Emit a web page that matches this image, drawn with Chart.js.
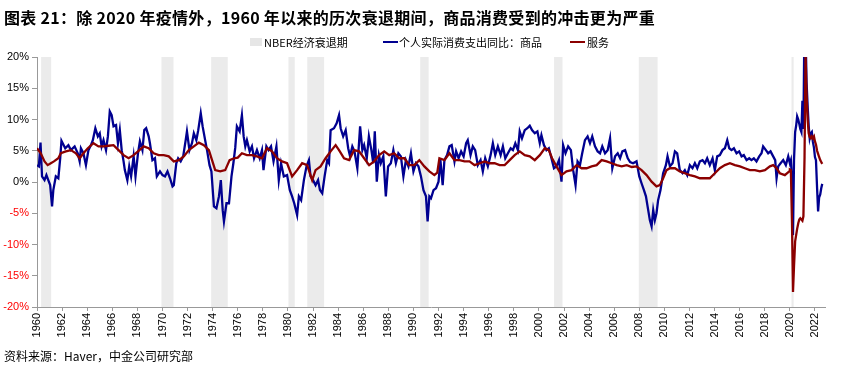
<!DOCTYPE html>
<html><head><meta charset="utf-8">
<script src="https://cdn.jsdelivr.net/npm/chart.js@4.4.0/dist/chart.umd.min.js"></script>
<style>
html,body{margin:0;padding:0;background:#fff;}
#wrap{position:relative;width:849px;height:373px;overflow:hidden;font-family:"Noto Sans CJK SC","Liberation Sans",sans-serif;}
#title{position:absolute;left:4px;top:5px;font-size:16px;font-weight:bold;color:#000;white-space:nowrap;letter-spacing:0.3px;}
#src{position:absolute;left:4px;top:347px;font-size:12px;color:#000;white-space:nowrap;}
.lg{position:absolute;top:35px;font-size:11px;color:#000;white-space:nowrap;line-height:14px;}
.sw{position:absolute;}
canvas{position:absolute;left:0;top:0;}
</style></head>
<body>
<div id="wrap">
<canvas id="c" width="849" height="373"></canvas>
<div id="title">图表 21：除 2020 年疫情外，1960 年以来的历次衰退期间，商品消费受到的冲击更为严重</div>
<div class="sw" style="left:250px;top:38px;width:12px;height:8px;background:#e6e6e6"></div>
<div class="lg" style="left:264px">NBER经济衰退期</div>
<div class="sw" style="left:383px;top:41px;width:15px;height:2px;background:#000090"></div>
<div class="lg" style="left:399px">个人实际消费支出同比：商品</div>
<div class="sw" style="left:570px;top:41px;width:15px;height:2px;background:#8b0000"></div>
<div class="lg" style="left:587px">服务</div>
<div id="src">资料来源：Haver，中金公司研究部</div>
</div>
<script>
// NBER recessions [start, end] in decimal years
const recessions = [[1960.33,1961.13],[1969.92,1970.88],[1973.88,1975.2],[1980.04,1980.54],[1981.54,1982.88],[1990.54,1991.21],[2001.21,2001.88],[2007.96,2009.46],[2020.13,2020.30]];

// x tick labels (years)
const xTickStart = 1960, xTickEnd = 2022, xTickStep = 2;
// y ticks (%)
const yTickMin = -20, yTickMax = 20, yTickStep = 5;

// Real PCE goods, YoY % : [decimal year, value]
const goods = [
[1960.00,2.7],[1960.15,2.5],[1960.28,6.3],[1960.40,0.9],[1960.60,0.3],[1960.75,1.1],[1960.90,0.3],[1961.05,-0.5],[1961.20,-3.9],[1961.30,-1.3],[1961.50,0.9],[1961.70,0.6],[1961.85,3.8],[1961.95,6.6],
[1962.05,6.2],[1962.25,5.4],[1962.50,5.9],[1962.70,5.1],[1963.00,5.7],[1963.25,4.6],[1963.40,3.3],[1963.50,5.4],[1963.70,4.6],[1963.90,2.7],[1964.10,5.1],[1964.30,5.9],[1964.45,6.7],[1964.65,8.6],[1964.85,7.3],
[1965.00,7.8],[1965.15,5.7],[1965.30,6.7],[1965.50,5.1],[1965.65,7.3],[1965.80,11.3],[1965.95,10.7],[1966.10,8.9],[1966.30,9.1],[1966.45,6.2],[1966.60,8.3],[1966.75,5.1],[1966.90,3.3],[1967.00,1.9],[1967.20,0.3],
[1967.35,2.5],[1967.50,0.9],[1967.70,4.1],[1967.85,0.9],[1968.05,4.6],[1968.20,6.5],[1968.40,5.1],[1968.55,8.3],[1968.70,8.6],[1968.90,7.3],[1969.00,6.2],[1969.20,3.5],[1969.40,3.8],[1969.55,0.9],[1969.80,1.7],
[1970.00,1.1],[1970.20,0.9],[1970.40,1.7],[1970.60,0.6],[1970.80,-0.7],[1970.90,-0.5],[1971.10,3.0],[1971.25,3.8],[1971.45,3.3],[1971.65,4.1],[1971.85,6.7],[1971.95,8.1],[1972.15,5.1],[1972.35,6.2],[1972.50,7.8],
[1972.70,6.7],[1972.85,8.3],[1973.05,11.0],[1973.20,8.9],[1973.40,6.7],[1973.55,5.1],[1973.75,2.7],[1973.90,1.7],[1974.10,-3.9],[1974.30,-4.2],[1974.50,-2.3],[1974.65,0.3],[1974.80,-4.5],[1974.90,-6.3],
[1975.10,-3.4],[1975.30,-3.4],[1975.50,0.9],[1975.65,3.0],[1975.80,5.5],[1975.93,8.9],[1976.15,8.1],[1976.33,10.7],[1976.47,7.3],[1976.60,5.7],[1976.73,6.7],[1976.95,4.9],[1977.13,5.7],[1977.30,3.8],[1977.53,5.1],
[1977.75,3.8],[1977.93,5.1],[1978.05,1.9],[1978.28,5.7],[1978.45,5.1],[1978.65,5.7],[1978.85,3.3],[1979.08,5.7],[1979.27,0.3],[1979.45,3.0],[1979.67,0.9],[1979.93,1.1],[1980.15,-1.3],[1980.33,-2.3],[1980.50,-3.4],
[1980.73,-5.3],[1980.87,-2.3],[1981.05,-2.9],[1981.27,0.3],[1981.48,2.5],[1981.67,3.5],[1981.80,0.9],[1982.00,0.3],[1982.20,-0.5],[1982.40,0.3],[1982.55,-1.3],[1982.73,-1.8],[1982.92,0.9],[1983.13,3.5],[1983.27,3.0],
[1983.40,8.3],[1983.67,8.6],[1983.88,9.4],[1984.07,10.7],[1984.20,8.6],[1984.40,7.3],[1984.60,8.3],[1984.80,5.4],[1984.95,4.1],[1985.13,5.7],[1985.30,4.9],[1985.53,2.2],[1985.75,8.9],[1985.93,5.1],[1986.07,5.9],
[1986.28,3.8],[1986.45,7.3],[1986.65,5.1],[1986.80,3.0],[1986.92,8.1],[1987.08,0.05],[1987.25,4.3],[1987.40,3.0],[1987.60,4.1],[1987.80,-2.3],[1987.98,2.5],[1988.20,3.0],[1988.40,5.1],[1988.60,3.0],[1988.80,4.6],
[1989.00,4.1],[1989.20,0.9],[1989.40,3.5],[1989.60,2.5],[1989.80,4.6],[1990.00,1.7],[1990.20,3.0],[1990.40,2.5],[1990.60,0.9],[1990.80,-1.3],[1991.00,-2.3],[1991.13,-6.3],[1991.27,-2.3],[1991.40,-2.6],[1991.60,-1.3],
[1991.80,-1.0],[1992.00,0.05],[1992.15,3.5],[1992.33,-0.5],[1992.47,3.5],[1992.68,4.3],[1992.87,5.7],[1993.05,5.9],[1993.27,3.3],[1993.40,4.9],[1993.60,3.8],[1993.80,4.9],[1994.00,4.1],[1994.20,6.2],[1994.33,6.7],
[1994.55,4.3],[1994.73,5.7],[1994.92,5.1],[1995.13,2.7],[1995.35,3.5],[1995.53,1.7],[1995.72,3.8],[1995.93,2.5],[1996.15,4.3],[1996.33,6.2],[1996.52,4.3],[1996.73,5.7],[1996.95,4.3],[1997.13,5.7],[1997.32,3.8],
[1997.53,4.6],[1997.75,5.4],[1997.93,5.1],[1998.12,6.2],[1998.33,5.1],[1998.47,8.1],[1998.65,7.0],[1998.87,8.3],[1999.08,8.6],[1999.27,9.0],[1999.45,8.3],[1999.67,7.8],[1999.88,8.1],[2000.07,6.2],[2000.20,7.5],
[2000.40,5.9],[2000.60,5.1],[2000.79,5.4],[2001.00,3.8],[2001.20,2.2],[2001.40,2.5],[2001.60,3.5],[2001.80,0.05],[2001.93,5.9],[2002.12,4.6],[2002.33,5.7],[2002.55,5.1],[2002.73,1.9],[2002.92,-0.5],[2003.08,3.3],
[2003.27,2.7],[2003.45,4.6],[2003.67,6.7],[2003.88,7.3],[2004.07,6.2],[2004.25,7.3],[2004.47,5.7],[2004.68,4.9],[2004.87,4.6],[2005.05,5.7],[2005.27,4.6],[2005.48,5.1],[2005.67,7.0],[2005.85,2.2],[2006.07,4.1],
[2006.28,4.6],[2006.47,3.8],[2006.65,4.9],[2006.87,5.1],[2007.08,3.8],[2007.27,3.2],[2007.50,3.0],[2007.78,3.3],[2008.00,0.9],[2008.18,-0.2],[2008.37,-1.3],[2008.53,-2.3],[2008.71,-4.5],[2008.84,-6.1],[2008.98,-7.1],
[2009.11,-4.5],[2009.24,-6.1],[2009.37,-5.0],[2009.50,-2.9],[2009.69,-1.3],[2009.90,1.4],[2010.12,2.7],[2010.25,4.1],[2010.44,2.5],[2010.65,3.0],[2010.84,4.9],[2011.02,4.6],[2011.23,1.9],[2011.45,1.4],[2011.63,1.9],
[2011.82,1.1],[2012.03,2.7],[2012.24,2.2],[2012.43,3.0],[2012.62,2.2],[2012.83,3.3],[2013.04,3.5],[2013.23,3.0],[2013.41,3.8],[2013.62,2.7],[2013.84,3.8],[2014.02,1.9],[2014.21,4.1],[2014.42,4.3],[2014.63,5.1],
[2014.82,5.4],[2015.01,6.7],[2015.17,5.4],[2015.35,5.1],[2015.54,5.4],[2015.75,4.6],[2015.96,4.9],[2016.15,4.1],[2016.33,4.3],[2016.55,3.5],[2016.76,3.8],[2016.94,3.5],[2017.13,3.8],[2017.34,3.3],[2017.56,4.1],
[2017.74,4.6],[2017.87,5.7],[2018.09,5.1],[2018.27,4.6],[2018.46,4.9],[2018.67,4.1],[2018.83,3.5],[2018.94,0.6],[2019.07,2.5],[2019.26,3.0],[2019.47,3.5],[2019.68,2.7],[2019.87,4.1],
[2020.00,3.0],[2020.08,3.5],[2020.17,0.5],[2020.25,-8.5],[2020.33,3.5],[2020.42,8.0],[2020.50,9.0],[2020.58,10.5],[2020.67,10.0],[2020.75,9.3],[2020.83,8.5],[2020.92,8.0],
[2021.00,13.0],[2021.08,8.5],[2021.17,27.0],[2021.25,24.0],[2021.33,16.0],[2021.42,12.0],[2021.50,9.0],[2021.58,7.0],[2021.67,7.8],[2021.75,8.0],[2021.83,6.5],[2021.92,5.5],
[2022.00,4.0],[2022.08,3.5],[2022.17,-1.0],[2022.25,-4.7],[2022.33,-2.5],[2022.42,-2.0],[2022.50,-1.0],[2022.58,-0.3]
];

// Real PCE services, YoY % : [decimal year, value]
const services = [
[1960.00,5.4],[1960.15,5.0],[1960.30,4.6],[1960.60,3.3],[1960.85,2.7],[1961.10,3.0],[1961.35,3.3],[1961.70,3.8],[1961.90,4.6],[1962.30,4.9],[1962.70,5.1],[1963.10,4.6],[1963.40,3.8],[1963.70,4.6],
[1964.05,5.4],[1964.50,6.2],[1964.90,5.7],[1965.30,5.7],[1965.70,5.8],[1966.10,5.9],[1966.50,5.1],[1966.90,4.3],[1967.30,3.8],[1967.70,4.3],[1968.05,4.9],[1968.50,5.7],[1968.90,5.4],[1969.30,4.6],[1969.70,4.3],
[1970.10,4.3],[1970.50,4.1],[1970.90,3.3],[1971.30,3.5],[1971.70,4.1],[1972.10,5.1],[1972.50,5.7],[1972.90,6.3],[1973.30,5.9],[1973.70,5.1],[1973.95,3.5],[1974.20,1.9],[1974.60,1.7],[1975.00,1.9],[1975.35,3.5],
[1975.70,3.8],[1976.00,3.9],[1976.33,4.6],[1976.73,4.3],[1977.13,4.3],[1977.53,4.1],[1977.93,3.8],[1978.33,5.4],[1978.73,4.9],[1979.13,3.8],[1979.53,3.3],[1979.93,3.0],[1980.33,0.9],[1980.73,1.9],[1981.13,3.0],
[1981.53,2.7],[1981.93,0.3],[1982.20,1.9],[1982.60,2.5],[1983.00,3.8],[1983.40,4.9],[1983.80,5.9],[1984.07,5.1],[1984.47,3.8],[1984.87,3.5],[1985.27,5.1],[1985.67,4.9],[1986.07,3.8],[1986.47,2.7],[1986.87,3.3],
[1987.27,4.3],[1987.67,4.9],[1988.07,4.3],[1988.47,4.6],[1988.87,3.8],[1989.27,3.8],[1989.67,2.7],[1990.07,2.7],[1990.47,3.5],[1990.87,2.5],[1991.27,1.7],[1991.67,1.1],[1991.90,1.5],[1992.07,3.8],[1992.47,3.5],
[1992.87,4.6],[1993.27,3.5],[1993.67,3.5],[1994.07,3.3],[1994.47,3.3],[1994.87,2.7],[1995.27,3.0],[1995.67,3.3],[1996.07,3.0],[1996.47,3.0],[1996.87,2.7],[1997.27,2.7],[1997.67,3.5],[1998.07,4.3],[1998.47,4.9],
[1998.87,4.3],[1999.27,4.1],[1999.67,3.5],[2000.07,4.3],[2000.47,5.4],[2000.79,5.1],[2001.05,3.8],[2001.40,2.5],[2001.80,1.1],[2002.20,1.7],[2002.60,1.9],[2003.00,2.7],[2003.40,2.2],[2003.80,2.2],[2004.20,2.5],
[2004.60,2.7],[2005.00,3.5],[2005.40,3.3],[2005.80,3.0],[2006.20,2.7],[2006.60,2.5],[2007.00,2.7],[2007.40,2.4],[2007.78,2.5],[2008.18,1.9],[2008.58,1.1],[2008.98,0.05],[2009.37,-0.7],[2009.64,-0.5],[2009.90,0.6],
[2010.17,1.9],[2010.44,2.2],[2010.84,2.2],[2011.23,1.7],[2011.63,1.4],[2012.03,1.1],[2012.43,0.9],[2012.83,0.6],[2013.23,0.6],[2013.62,0.6],[2014.02,1.4],[2014.42,2.2],[2014.82,2.7],[2015.22,3.0],[2015.62,2.7],
[2016.02,2.5],[2016.41,2.2],[2016.81,1.9],[2017.21,1.9],[2017.61,1.7],[2018.01,1.9],[2018.41,2.5],[2018.67,2.7],[2018.94,2.2],[2019.20,1.4],[2019.60,1.1],[2019.95,1.7],
[2020.00,2.0],[2020.08,1.9],[2020.17,-6.5],[2020.25,-17.6],[2020.33,-13.5],[2020.42,-9.5],[2020.50,-8.5],[2020.58,-7.5],[2020.67,-6.6],[2020.75,-6.0],[2020.83,-5.8],[2020.92,-6.0],
[2021.00,-6.2],[2021.08,-5.5],[2021.17,4.0],[2021.25,20.5],[2021.33,14.0],[2021.42,10.0],[2021.50,7.8],[2021.58,7.2],[2021.67,7.0],[2021.75,7.3],[2021.83,7.0],[2021.92,7.3],
[2022.00,6.5],[2022.08,6.0],[2022.17,5.0],[2022.25,4.5],[2022.33,4.0],[2022.42,3.5],[2022.50,3.2],[2022.58,2.9]
];

const toPts = arr => arr.map(p => ({x: p[0], y: p[1]}));

const recessionPlugin = {
  id: 'recessions',
  beforeDatasetsDraw(chart) {
    const {ctx, chartArea, scales} = chart;
    ctx.save();
    ctx.fillStyle = '#ebebeb';
    recessions.forEach(([a, b]) => {
      const x1 = scales.x.getPixelForValue(a), x2 = scales.x.getPixelForValue(b);
      ctx.fillRect(x1, chartArea.top, x2 - x1, chartArea.bottom - chartArea.top);
    });
    ctx.restore();
  }
};

new Chart(document.getElementById('c'), {
  type: 'line',
  data: {
    datasets: [
      {label: '服务', data: toPts(services), borderColor: '#8b0000', borderWidth: 2.3, pointRadius: 0, tension: 0, order: 1, clip: 0},
      {label: '个人实际消费支出同比：商品', data: toPts(goods), borderColor: '#000090', borderWidth: 2.3, pointRadius: 0, tension: 0, order: 2, clip: 0}
    ]
  },
  options: {
    responsive: false,
    animation: false,
    events: [],
    layout: {padding: {top: 57, right: 24, left: 0, bottom: 0}},
    plugins: {legend: {display: false}, tooltip: {enabled: false}},
    scales: {
      x: {
        type: 'linear', min: 1960, max: 2022.8,
        afterBuildTicks(scale) {
          const t = [];
          for (let v = xTickStart; v <= xTickEnd; v += xTickStep) t.push({value: v});
          scale.ticks = t;
        },
        afterFit(scale) { scale.height = 66; },
        ticks: {autoSkip: false, minRotation: 90, maxRotation: 90, padding: 2, color: '#000',
          font: {family: 'Liberation Sans', size: 11}, callback: v => String(v)},
        grid: {display: true, drawOnChartArea: false, tickLength: 4, color: '#999'},
        border: {display: true, color: '#999', width: 1}
      },
      y: {
        min: yTickMin, max: yTickMax,
        afterFit(scale) { scale.width = 37; },
        ticks: {stepSize: yTickStep, padding: 3,
          font: {family: 'Liberation Sans', size: 11},
          color: ctx => (ctx.tick && ctx.tick.value < 0) ? '#ff0000' : '#000',
          callback: v => v + '%'},
        grid: {display: true, drawOnChartArea: false, tickLength: 5, color: '#999'},
        border: {display: true, color: '#999', width: 1}
      }
    }
  },
  plugins: [recessionPlugin]
});
</script>
</body></html>
